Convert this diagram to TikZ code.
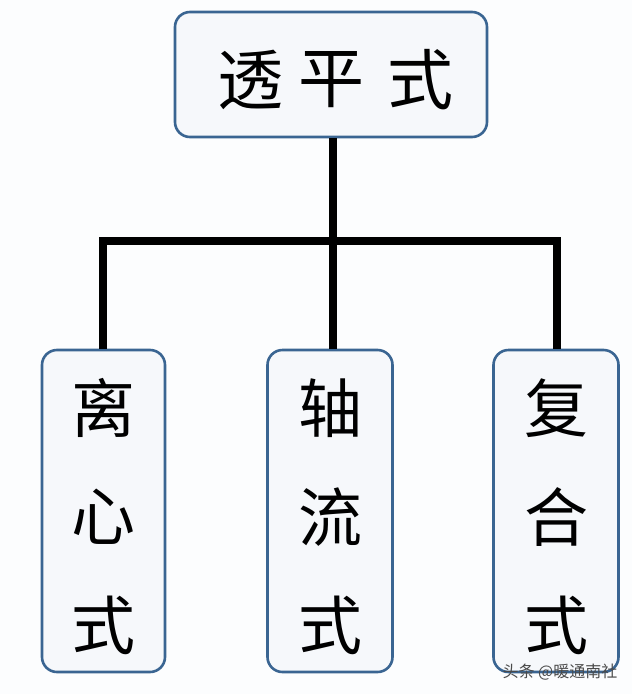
\documentclass[tikz,border=0pt]{standalone}
\usepackage{fontspec}
\newfontfamily\cjk{Noto Sans CJK SC}
\definecolor{boxborder}{HTML}{3A6592}
\definecolor{boxfill}{HTML}{F6F8FB}
\definecolor{bgcol}{HTML}{FCFDFE}
\definecolor{wmcol}{HTML}{4A4A4A}
\tikzset{
  catbox/.style={draw=boxborder, line width=2.6pt, fill=boxfill, rounded corners=15pt, inner sep=0pt},
  link/.style={line width=8pt, black, line cap=butt, line join=miter},
  toplabel/.style={font=\cjk\fontsize{66}{66}\selectfont, text=black},
  sidelabel/.style={font=\cjk\fontsize{64}{110}\selectfont, text=black, align=center}
}
\begin{document}
\begin{tikzpicture}[x=1pt,y=-1pt]
\fill[bgcol] (0,0) rectangle (632,694);
\useasboundingbox (0,0) rectangle (632,694);
% boxes
\node[catbox, minimum width=312pt, minimum height=125pt] (top) at (331,74.5) {};
\node[catbox, minimum width=123pt, minimum height=322pt] (left) at (103.5,511) {};
\node[catbox, minimum width=125pt, minimum height=322pt] (mid) at (330,511) {};
\node[catbox, minimum width=125pt, minimum height=322pt] (right) at (556,511) {};
% texts
\node[toplabel] (t1) at (250,80) {透};
\node[toplabel] (t2) at (331,80) {平};
\node[toplabel] (t3) at (420,80) {式};
\node[sidelabel] (l1) at (103,408) {离};
\node[sidelabel] (l2) at (103,517) {心};
\node[sidelabel] (l3) at (103,625) {式};
\node[sidelabel] (m1) at (330,408) {轴};
\node[sidelabel] (m2) at (330,517) {流};
\node[sidelabel] (m3) at (330,625) {式};
\node[sidelabel] (r1) at (556,408) {复};
\node[sidelabel] (r2) at (556,517) {合};
\node[sidelabel] (r3) at (556,625) {式};
% connectors
\coordinate (hub) at (333,241);
\draw[link] (top.south -| hub) -- (hub);
\draw[link] (left.north -| 103,0) |- (hub) -| (right.north -| 557,0);
\draw[link] (hub) -- (mid.north -| hub);
% watermark
\node[font=\cjk\fontsize{16}{16}\selectfont, text=wmcol] (wm) at (560,672) {头条 @暖通南社};
\end{tikzpicture}
\end{document}
